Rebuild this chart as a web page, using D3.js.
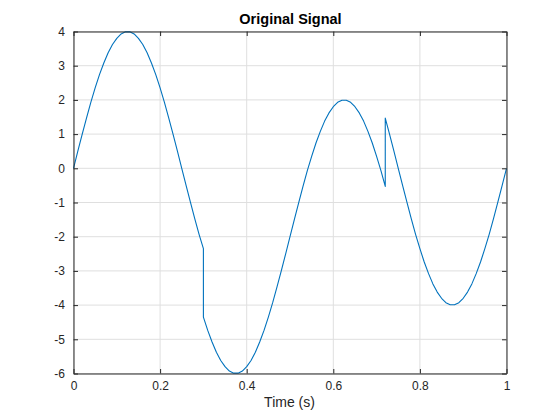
<!DOCTYPE html>
<html>
<head>
<meta charset="utf-8">
<script src="https://cdn.jsdelivr.net/npm/d3@7"></script>
<style>
  html, body { margin: 0; padding: 0; background: #ffffff; }
  svg { display: block; }
  text { font-family: "Liberation Sans", Arial, Helvetica, sans-serif; }
</style>
</head>
<body>
<svg id="chart" width="560" height="420"></svg>
<script>
// Time samples (s), with duplicated times at the two discontinuities
const times = [
  0.00,0.01,0.02,0.03,0.04,0.05,0.06,0.07,0.08,0.09,
  0.10,0.11,0.12,0.13,0.14,0.15,0.16,0.17,0.18,0.19,
  0.20,0.21,0.22,0.23,0.24,0.25,0.26,0.27,0.28,0.29,
  0.30,0.30,
  0.31,0.32,0.33,0.34,0.35,0.36,0.37,0.38,0.39,
  0.40,0.41,0.42,0.43,0.44,0.45,0.46,0.47,0.48,0.49,
  0.50,0.51,0.52,0.53,0.54,0.55,0.56,0.57,0.58,0.59,
  0.60,0.61,0.62,0.63,0.64,0.65,0.66,0.67,0.68,0.69,
  0.70,0.71,0.72,0.72,
  0.73,0.74,0.75,0.76,0.77,0.78,0.79,
  0.80,0.81,0.82,0.83,0.84,0.85,0.86,0.87,0.88,0.89,
  0.90,0.91,0.92,0.93,0.94,0.95,0.96,0.97,0.98,0.99,
  1.00
];
// Signal amplitude
const signal = [
  0.00,0.50,0.99,1.47,1.93,2.35,2.74,3.08,3.38,3.62,
  3.80,3.93,3.99,3.99,3.93,3.80,3.62,3.38,3.08,2.74,
  2.35,1.93,1.47,0.99,0.50,0.00,-0.50,-0.99,-1.47,-1.93,
  -2.35,-4.35,
  -4.74,-5.08,-5.38,-5.62,-5.80,-5.93,-5.99,-5.99,-5.93,
  -5.80,-5.62,-5.38,-5.08,-4.74,-4.35,-3.93,-3.47,-2.99,-2.50,
  -2.00,-1.50,-1.01,-0.53,-0.07,0.35,0.74,1.08,1.38,1.62,
  1.80,1.93,1.99,1.99,1.93,1.80,1.62,1.38,1.08,0.74,
  0.35,-0.07,-0.53,1.47,
  0.99,0.50,0.00,-0.50,-0.99,-1.47,-1.93,
  -2.35,-2.74,-3.08,-3.38,-3.62,-3.80,-3.93,-3.99,-3.99,-3.93,
  -3.80,-3.62,-3.38,-3.08,-2.74,-2.35,-1.93,-1.47,-0.99,-0.50,
  0.00
];
const xTicks = [0, 0.2, 0.4, 0.6, 0.8, 1];
const xTickLabels = ["0", "0.2", "0.4", "0.6", "0.8", "1"];
const yTicks = [-6, -5, -4, -3, -2, -1, 0, 1, 2, 3, 4];
const yTickLabels = ["-6", "-5", "-4", "-3", "-2", "-1", "0", "1", "2", "3", "4"];
const titleText = "Original Signal";
const xLabelText = "Time (s)";

const svg = d3.select("#chart");
const L = 73.5, R = 506.5, T = 31.5, B = 373.5;
const x = d3.scaleLinear().domain([0, 1]).range([L, R]);
const y = d3.scaleLinear().domain([-6, 4]).range([B, T]);
const axisColor = "#262626";
const gridColor = "#dfdfdf";
const tickLen = 4.5;

// grid
const grid = svg.append("g");
grid.selectAll("line.gx").data(xTicks).enter().append("line")
  .attr("x1", d => x(d)).attr("x2", d => x(d)).attr("y1", T).attr("y2", B)
  .attr("stroke", gridColor).attr("stroke-width", 1);
grid.selectAll("line.gy").data(yTicks).enter().append("line")
  .attr("y1", d => y(d)).attr("y2", d => y(d)).attr("x1", L).attr("x2", R)
  .attr("stroke", gridColor).attr("stroke-width", 1);

// line
const data = times.map((t, i) => ({ t: t, v: signal[i] }));
const line = d3.line().x(d => x(d.t)).y(d => y(d.v)).curve(d3.curveLinear);
svg.append("path").datum(data)
  .attr("d", line)
  .attr("fill", "none")
  .attr("stroke", "#0072BD")
  .attr("stroke-width", 1.1)
  .attr("stroke-linejoin", "round");

// axes
const fmtX = (d, i) => xTickLabels[i];
const fmtY = (d, i) => yTickLabels[i];
function styleAxis(g) {
  g.select(".domain").attr("stroke", axisColor);
  g.selectAll(".tick line").attr("stroke", axisColor);
  g.selectAll(".tick text").attr("fill", axisColor).style("font-size", "12px")
    .style("font-family", "'Liberation Sans', Arial, sans-serif");
}
const xAxis = svg.append("g").attr("transform", `translate(0,${B})`)
  .call(d3.axisBottom(x).tickValues(xTicks).tickFormat(fmtX).tickSizeInner(-tickLen).tickSizeOuter(0).tickPadding(8));
styleAxis(xAxis);
const xAxisTop = svg.append("g").attr("transform", `translate(0,${T})`)
  .call(d3.axisTop(x).tickValues(xTicks).tickFormat("").tickSizeInner(-tickLen).tickSizeOuter(0));
styleAxis(xAxisTop);
const yAxis = svg.append("g").attr("transform", `translate(${L},0)`)
  .call(d3.axisLeft(y).tickValues(yTicks).tickFormat(fmtY).tickSizeInner(-tickLen).tickSizeOuter(0).tickPadding(8.5));
styleAxis(yAxis);
const yAxisRight = svg.append("g").attr("transform", `translate(${R},0)`)
  .call(d3.axisRight(y).tickValues(yTicks).tickFormat("").tickSizeInner(-tickLen).tickSizeOuter(0));
styleAxis(yAxisRight);

// title & label
svg.append("text").attr("x", 290.5).attr("y", 24)
  .attr("text-anchor", "middle").attr("fill", "#000")
  .style("font-size", "14.5px").style("font-weight", "bold")
  .text(titleText);
svg.append("text").attr("x", 289.5).attr("y", 406.5)
  .attr("text-anchor", "middle").attr("fill", axisColor)
  .style("font-size", "14px")
  .text(xLabelText);
</script>
</body>
</html>
